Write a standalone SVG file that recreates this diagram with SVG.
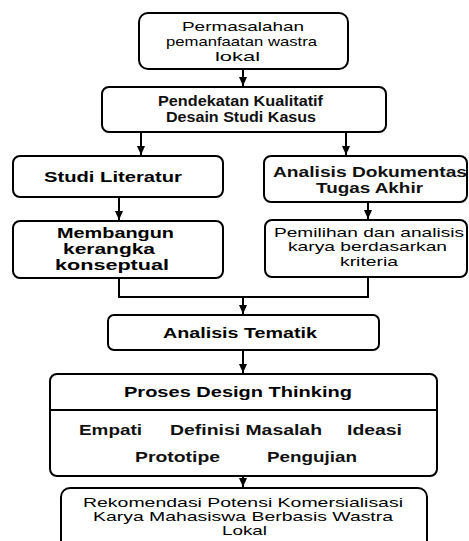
<svg xmlns="http://www.w3.org/2000/svg" width="469" height="541" viewBox="0 0 469 541">
<defs>
<marker id="ah" markerUnits="userSpaceOnUse" markerWidth="10" markerHeight="8" refX="9" refY="4" orient="auto">
<path d="M0,0 L9,4 L0,8 Z" fill="#000"/>
</marker>
<style>
.box{fill:#fff;stroke:#000;stroke-width:2}
.ln{fill:none;stroke:#000;stroke-width:2}
.b{font-family:"Liberation Sans",Arial,sans-serif;font-weight:bold;font-size:15px;fill:#000}
.m{font-family:"Liberation Sans",Arial,sans-serif;font-weight:bold;font-size:14px;fill:#111}
.r{font-family:"Liberation Sans",Arial,sans-serif;font-size:13.5px;fill:#000}
</style>
</defs>
<rect width="469" height="541" fill="#fff"/>
<g id="connectors">
<line class="ln" x1="243" y1="69" x2="243" y2="86" marker-end="url(#ah)"/>
<line class="ln" x1="141" y1="132" x2="141" y2="155" marker-end="url(#ah)"/>
<line class="ln" x1="346" y1="132" x2="346" y2="155" marker-end="url(#ah)"/>
<line class="ln" x1="119" y1="197" x2="119" y2="220" marker-end="url(#ah)"/>
<line class="ln" x1="368" y1="202" x2="368" y2="219" marker-end="url(#ah)"/>
<path class="ln" d="M119 278 V297 H368 V277"/>
<line class="ln" x1="243" y1="297" x2="243" y2="314" marker-end="url(#ah)"/>
<line class="ln" x1="243" y1="350" x2="243" y2="373" marker-end="url(#ah)"/>
<line class="ln" x1="243" y1="476" x2="243" y2="487" marker-end="url(#ah)"/>
</g>
<g id="n1">
<rect class="box" x="139" y="13" width="209" height="56" rx="9"/>
<text class="r" x="182" y="31" textLength="122" lengthAdjust="spacingAndGlyphs">Permasalahan</text>
<text class="r" x="166" y="46" textLength="151" lengthAdjust="spacingAndGlyphs">pemanfaatan wastra</text>
<text class="r" x="215" y="61" textLength="45" lengthAdjust="spacingAndGlyphs">lokal</text>
</g>
<g id="n2">
<rect class="box" x="102" y="87" width="284" height="45" rx="7"/>
<text class="m" x="158" y="106" textLength="165" lengthAdjust="spacingAndGlyphs">Pendekatan Kualitatif</text>
<text class="m" x="166" y="122" textLength="150" lengthAdjust="spacingAndGlyphs">Desain Studi Kasus</text>
</g>
<g id="n3">
<rect class="box" x="13" y="156" width="210" height="41" rx="7"/>
<text class="b" x="44" y="182" textLength="138" lengthAdjust="spacingAndGlyphs">Studi Literatur</text>
</g>
<g id="n4">
<rect class="box" x="264" y="156" width="203" height="46" rx="7"/>
<text class="m" x="273" y="177" textLength="194" lengthAdjust="spacingAndGlyphs">Analisis Dokumentas</text>
<text class="m" x="316" y="193" textLength="107" lengthAdjust="spacingAndGlyphs">Tugas Akhir</text>
</g>
<g id="n5">
<rect class="box" x="13" y="221" width="210" height="57" rx="7"/>
<text class="b" x="57" y="238" textLength="117" lengthAdjust="spacingAndGlyphs">Membangun</text>
<text class="b" x="63" y="254" textLength="92" lengthAdjust="spacingAndGlyphs">kerangka</text>
<text class="b" x="55" y="270" textLength="114" lengthAdjust="spacingAndGlyphs">konseptual</text>
</g>
<g id="n6">
<rect class="box" x="265" y="220" width="202" height="57" rx="7"/>
<text class="r" x="274" y="237" textLength="190" lengthAdjust="spacingAndGlyphs">Pemilihan dan analisis</text>
<text class="r" x="288" y="251" textLength="159" lengthAdjust="spacingAndGlyphs">karya berdasarkan</text>
<text class="r" x="340" y="266" textLength="58" lengthAdjust="spacingAndGlyphs">kriteria</text>
</g>
<g id="n7">
<rect class="box" x="108" y="315" width="271" height="35" rx="6"/>
<text class="b" x="163" y="338" textLength="154" lengthAdjust="spacingAndGlyphs">Analisis Tematik</text>
</g>
<g id="n8">
<rect class="box" x="50" y="374" width="387" height="102" rx="7"/>
<line class="ln" x1="50" y1="410" x2="437" y2="410"/>
<text class="b" x="124" y="397" textLength="228" lengthAdjust="spacingAndGlyphs">Proses Design Thinking</text>
<text class="m" x="79" y="435" textLength="63" lengthAdjust="spacingAndGlyphs">Empati</text>
<text class="m" x="170" y="435" textLength="152" lengthAdjust="spacingAndGlyphs">Definisi Masalah</text>
<text class="m" x="347" y="435" textLength="55" lengthAdjust="spacingAndGlyphs">Ideasi</text>
<text class="m" x="135" y="462" textLength="85" lengthAdjust="spacingAndGlyphs">Prototipe</text>
<text class="m" x="267" y="462" textLength="90" lengthAdjust="spacingAndGlyphs">Pengujian</text>
</g>
<g id="n9">
<rect class="box" x="61" y="488" width="366" height="62" rx="9"/>
<text class="r" x="83" y="507" textLength="320" lengthAdjust="spacingAndGlyphs">Rekomendasi Potensi Komersialisasi</text>
<text class="r" x="93" y="521" textLength="300" lengthAdjust="spacingAndGlyphs">Karya Mahasiswa Berbasis Wastra</text>
<text class="r" x="222" y="535" textLength="45" lengthAdjust="spacingAndGlyphs">Lokal</text>
</g>
</svg>
